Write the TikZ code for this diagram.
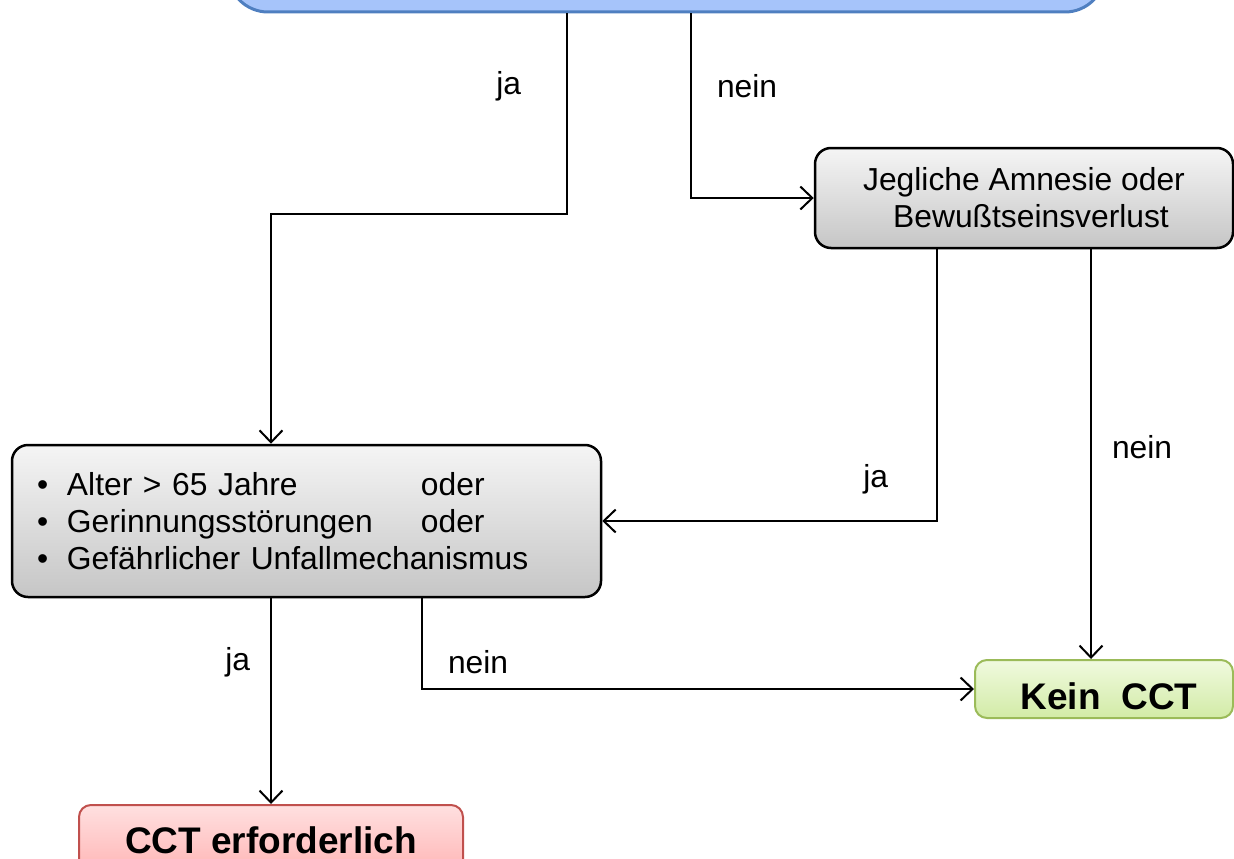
\documentclass[tikz,border=0pt]{standalone}
\usepackage{fontspec}
\setmainfont{Liberation Sans}
\usepackage{xcolor}
\usetikzlibrary{arrows.meta,positioning,calc}

\definecolor{startfill}{HTML}{A6C4FA}
\definecolor{startline}{HTML}{4F7FC0}
\definecolor{keintop}{HTML}{F0FADF}
\definecolor{keinbot}{HTML}{D2EBA6}
\definecolor{keinline}{HTML}{9BBB59}
\definecolor{ccttop}{HTML}{FFE0E0}
\definecolor{cctbot}{HTML}{FFB4B4}
\definecolor{cctline}{HTML}{C0504D}

\begin{document}
\begin{tikzpicture}[
    x=1pt, y=-1pt,
    font=\fontsize{31.8}{37}\selectfont,
    box/.style={rectangle, rounded corners=16pt, draw=black, line width=2.5pt, top color=gray!8, bottom color=gray!45, align=center, inner sep=0pt},
    endbox/.style={rectangle, rounded corners=12pt, line width=2pt, align=center, inner sep=0pt, font=\fontsize{37}{44}\selectfont\bfseries},
    arrow/.style={-{Straight Barb[length=12pt,width=23pt]}, line width=2pt},
    lbl/.style={inner sep=0pt}
]
    \clip (0,0) rectangle (1234,859);

    % boxes
    \node[rectangle, rounded corners=40pt, draw=startline, fill=startfill, line width=3pt, minimum width=877pt, minimum height=100pt] (start) at (666.5,-38) {};
    \node[box, minimum width=418pt, minimum height=100pt] (amnesie) at (1024,198) {Jegliche Amnesie oder\\\hspace*{14pt}Bewußtseinsverlust};
    \node[box, align=left, text width=539pt, inner xsep=25pt, minimum height=152pt] (kriterien) at (306.5,521)
        {\makebox[30pt][l]{•}\makebox[354pt][l]{Alter > 65 Jahre}oder\\
         \makebox[30pt][l]{•}\makebox[354pt][l]{Gerinnungsstörungen}oder\\
         \makebox[30pt][l]{•}Gefährlicher Unfallmechanismus};
    \node[endbox, draw=keinline, top color=keintop, bottom color=keinbot, minimum width=258pt, minimum height=58pt, text height=41pt, text depth=0pt] (kein) at (1104,689) {\hspace*{10pt}Kein~~CCT};
    \node[endbox, draw=cctline, top color=ccttop, bottom color=cctbot, minimum width=384pt, minimum height=70pt] (cct) at (271,840) {CCT erforderlich};

    % connectors
    \draw[arrow] ([xshift=-99.5pt]start.south) -- node[lbl, left=45pt, pos=0.365] {ja} ++(0,200) -| ([xshift=-35.5pt]kriterien.north);
    \draw[arrow] ([xshift=24.5pt]start.south) |- node[lbl, right=25pt, pos=0.196] {nein} (amnesie.west);
    \draw[arrow] ([xshift=-87pt]amnesie.south) |- node[lbl, left=48pt, pos=0.4225] {ja} (kriterien.east);
    \draw[arrow] ([xshift=67pt]amnesie.south) -- node[lbl, right=20pt, pos=0.483] {nein} ([xshift=-13pt]kein.north);
    \draw[arrow] ([xshift=-35.5pt]kriterien.south) -- node[lbl, left=20pt, pos=0.3125] {ja} (cct.north);
    \draw[arrow] ([xshift=115.5pt]kriterien.south) |- node[lbl, right=25pt, pos=0.353] {nein} (kein.west);
\end{tikzpicture}
\end{document}
